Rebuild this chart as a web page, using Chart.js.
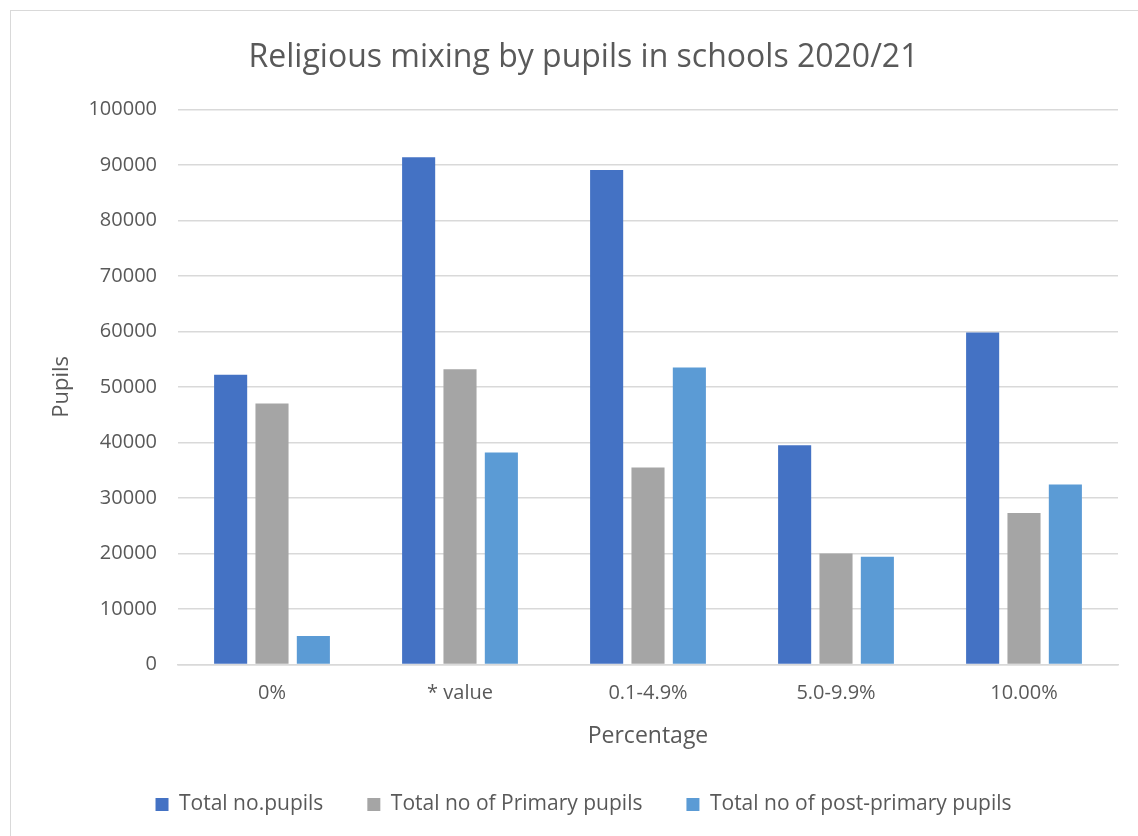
<!DOCTYPE html>
<html>
<head>
<meta charset="utf-8">
<script src="https://cdn.jsdelivr.net/npm/chart.js@4/dist/chart.umd.min.js"></script>
<style>
  body { margin: 0; background: #fff; }
  #wrap { position: absolute; left: 10px; top: 10px; width: 1140px; height: 840px; border: 1px solid #d9d9d9; }
  canvas { display: block; }
</style>
</head>
<body>
<div id="wrap"><canvas id="chart" width="1140" height="840"></canvas></div>
<script>
  'use strict';

  var categories = ['0%', '* value', '0.1-4.9%', '5.0-9.9%', '10.00%'];
  var totalPupils = [52200, 91400, 89100, 39500, 59800];
  var primaryPupils = [47000, 53200, 35500, 20000, 27300];
  var postPrimaryPupils = [5100, 38200, 53500, 19400, 32400];
  var yTicks = [0, 10000, 20000, 30000, 40000, 50000, 60000, 70000, 80000, 90000, 100000];

  var font = '"Open Sans", "Noto Sans", sans-serif';
  var textColor = '#595959';

  Chart.defaults.font.family = font;
  Chart.defaults.color = textColor;

  var ctx = document.getElementById('chart').getContext('2d');
  var chart = new Chart(ctx, {
    type: 'bar',
    data: {
      labels: categories,
      datasets: [{
        label: 'Total no.pupils',
        data: totalPupils,
        backgroundColor: '#4472C4'
      }, {
        label: 'Total no of Primary pupils',
        data: primaryPupils,
        backgroundColor: '#A5A5A5'
      }, {
        label: 'Total no of post-primary pupils',
        data: postPrimaryPupils,
        backgroundColor: '#5B9BD5'
      }]
    },
    options: {
      responsive: false,
      animation: false,
      maintainAspectRatio: false,
      datasets: {
        bar: {
          categoryPercentage: 0.66,
          barPercentage: 0.8
        }
      },
      layout: {
        padding: { left: 38, right: 33, top: 25, bottom: 26 }
      },
      plugins: {
        title: {
          display: true,
          text: 'Religious mixing by pupils in schools 2020/21',
          color: textColor,
          font: { size: 32, weight: 'normal' },
          padding: { top: 3, bottom: 32 }
        },
        legend: {
          position: 'bottom',
          labels: {
            boxWidth: 13,
            boxHeight: 13,
            padding: 44,
            color: textColor,
            font: { size: 21 }
          }
        },
        tooltip: { enabled: false }
      },
      scales: {
        x: {
          grid: { display: false },
          border: { color: '#d9d9d9', width: 1.5 },
          ticks: { color: textColor, font: { size: 20 }, padding: 9 },
          title: {
            display: true,
            text: 'Percentage',
            color: textColor,
            font: { size: 23 },
            padding: { top: 8, bottom: 0 }
          }
        },
        y: {
          min: 0,
          max: 100000,
          afterBuildTicks: function (axis) {
            axis.ticks = yTicks.map(function (v) { return { value: v }; });
          },
          afterFit: function (axis) {
            axis.width = 129;
          },
          grid: { color: '#d9d9d9', lineWidth: 1.5, drawTicks: false },
          border: { display: false },
          ticks: {
            color: textColor,
            font: { size: 20 },
            padding: 21,
            callback: function (v) { return String(v); }
          },
          title: {
            display: true,
            text: 'Pupils',
            color: textColor,
            font: { size: 22 },
            padding: { top: 0, bottom: 12 }
          }
        }
      }
    }
  });
</script>
</body>
</html>
